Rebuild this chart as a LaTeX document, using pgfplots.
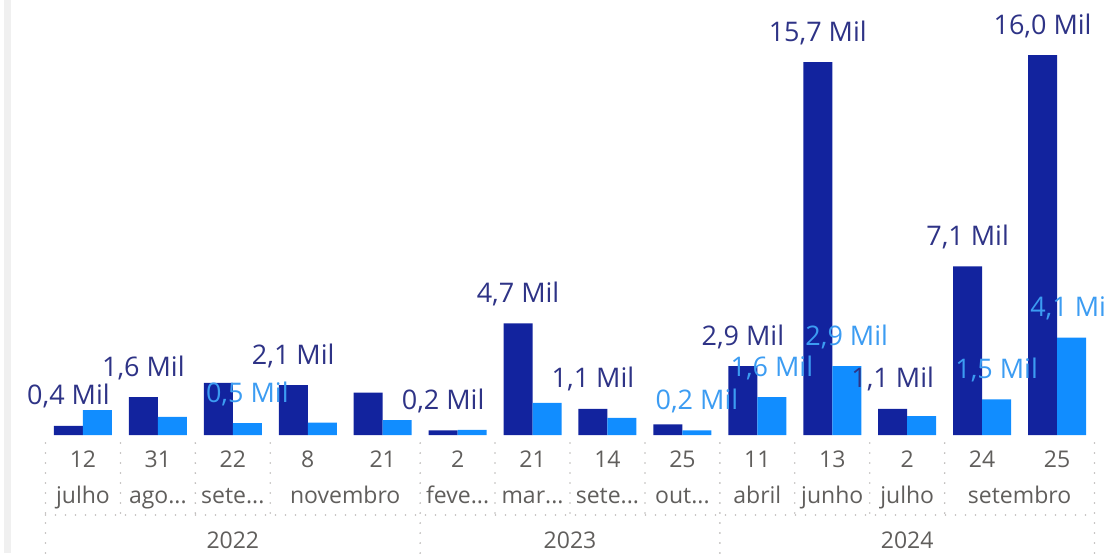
\documentclass[border=0pt]{standalone}
\usepackage{fontspec}
\setmainfont{Open Sans}
\usepackage{pgfplots}
\pgfplotsset{compat=1.18}

% Power BI default theme colours
\definecolor{serieA}{HTML}{12239E}
\definecolor{serieB}{HTML}{118DFF}
\definecolor{labA}{HTML}{2E3386}
\definecolor{labB}{HTML}{3C9CF2}
\definecolor{eixo}{HTML}{605E5C}
\definecolor{sep}{HTML}{BDBBB9}

\tikzset{
    rot/.style={anchor=base, inner sep=0pt, text=eixo, font=\fontsize{11.5}{13}\selectfont},
    pont/.style={sep, line width=0.9pt, line cap=round, dash pattern=on 0pt off 5pt},
}

\begin{document}
\begin{tikzpicture}
\begin{axis}[
    scale only axis,
    width=524.5pt, height=217.5pt,
    xmin=-0.5, xmax=13.5,
    ymin=0, ymax=18.316,
    axis line style={draw=none},
    ytick=\empty,
    xtick={0,...,13},
    xticklabels={12,31,22,8,21,2,21,14,25,11,13,2,24,25},
    major tick length=0pt,
    x tick label style={anchor=base, yshift=-16pt, inner sep=0pt,
        font=\fontsize{11.5}{13}\selectfont, text=eixo},
    clip=false,
    ybar,
    bar width=0.387,
]
% barras
\addplot[draw=none, fill=serieA, bar shift=-0.1935] coordinates {
    (0,0.38) (1,1.6) (2,2.2) (3,2.1) (4,1.78) (5,0.2) (6,4.7)
    (7,1.1) (8,0.45) (9,2.9) (10,15.7) (11,1.1) (12,7.1) (13,16.0)
};
\addplot[draw=none, fill=serieB, bar shift=0.1935] coordinates {
    (0,1.05) (1,0.76) (2,0.5) (3,0.52) (4,0.63) (5,0.22) (6,1.35)
    (7,0.72) (8,0.2) (9,1.6) (10,2.9) (11,0.8) (12,1.5) (13,4.1)
};

% rotulos de dados (so os que aparecem)
\addplot[draw=none, fill=none, bar shift=-0.1935, forget plot,
    point meta=explicit symbolic, nodes near coords,
    every node near coord/.style={anchor=base, xshift=-7.25pt, yshift=10.5pt, inner sep=0pt,
        font=\fontsize{13.5}{16}\selectfont, text=labA}]
    coordinates {
    (0,0.38) [0,4 Mil]
    (1,1.6) [1,6 Mil]
    (3,2.1) [2,1 Mil]
    (5,0.2) [0,2 Mil]
    (6,4.7) [4,7 Mil]
    (7,1.1) [1,1 Mil]
    (9,2.9) [2,9 Mil]
    (10,15.7) [15,7 Mil]
    (11,1.1) [1,1 Mil]
    (12,7.1) [7,1 Mil]
    (13,16.0) [16,0 Mil]
};
\addplot[draw=none, fill=none, bar shift=0.1935, forget plot,
    point meta=explicit symbolic, nodes near coords,
    every node near coord/.style={anchor=base, xshift=7.25pt, yshift=10.5pt, inner sep=0pt,
        font=\fontsize{13.5}{16}\selectfont, text=labB}]
    coordinates {
    (2,0.5) [0,5 Mil]
    (8,0.2) [0,2 Mil]
    (9,1.6) [1,6 Mil]
    (10,2.9) [2,9 Mil]
    (12,1.5) [1,5 Mil]
    (13,4.1) [4,1 Mil]
};

% separadores pontilhados
\pgfplotsinvokeforeach{0.5,1.5,2.5,5.5,6.5,7.5,9.5,10.5,11.5}{
    \draw[pont] ([yshift=-4pt]axis cs:#1,0) -- ([yshift=-40pt]axis cs:#1,0);
}
\pgfplotsinvokeforeach{-0.5,4.5,8.5,13.5}{
    \draw[pont] ([yshift=-4pt]axis cs:#1,0) -- ([yshift=-60pt]axis cs:#1,0);
}
\draw[pont] ([yshift=-40pt]axis cs:-0.5,0) -- ([yshift=-40pt]axis cs:13.5,0);

% meses
\node[rot] at ([yshift=-34pt]axis cs:0,0) {julho};
\node[rot] at ([yshift=-34pt]axis cs:1,0) {ago...};
\node[rot] at ([yshift=-34pt]axis cs:2,0) {sete...};
\node[rot] at ([yshift=-34pt]axis cs:3.5,0) {novembro};
\node[rot] at ([yshift=-34pt]axis cs:5,0) {feve...};
\node[rot] at ([yshift=-34pt]axis cs:6,0) {mar...};
\node[rot] at ([yshift=-34pt]axis cs:7,0) {sete...};
\node[rot] at ([yshift=-34pt]axis cs:8,0) {out...};
\node[rot] at ([yshift=-34pt]axis cs:9,0) {abril};
\node[rot] at ([yshift=-34pt]axis cs:10,0) {junho};
\node[rot] at ([yshift=-34pt]axis cs:11,0) {julho};
\node[rot] at ([yshift=-34pt]axis cs:12.5,0) {setembro};
% anos
\node[rot] at ([yshift=-56.5pt]axis cs:2,0) {2022};
\node[rot] at ([yshift=-56.5pt]axis cs:6.5,0) {2023};
\node[rot] at ([yshift=-56.5pt]axis cs:11,0) {2024};
\end{axis}

% borda cinza do visual
\fill[black!6] ([xshift=-20.75pt, yshift=-59pt]current axis.south west)
    rectangle ([xshift=-17.25pt, yshift=217.5pt]current axis.south west);

\pgfresetboundingbox
\path[use as bounding box] ([xshift=-22.75pt, yshift=-59pt]current axis.south west)
    rectangle ([xshift=530.25pt, yshift=217.5pt]current axis.south west);
\end{tikzpicture}
\end{document}
